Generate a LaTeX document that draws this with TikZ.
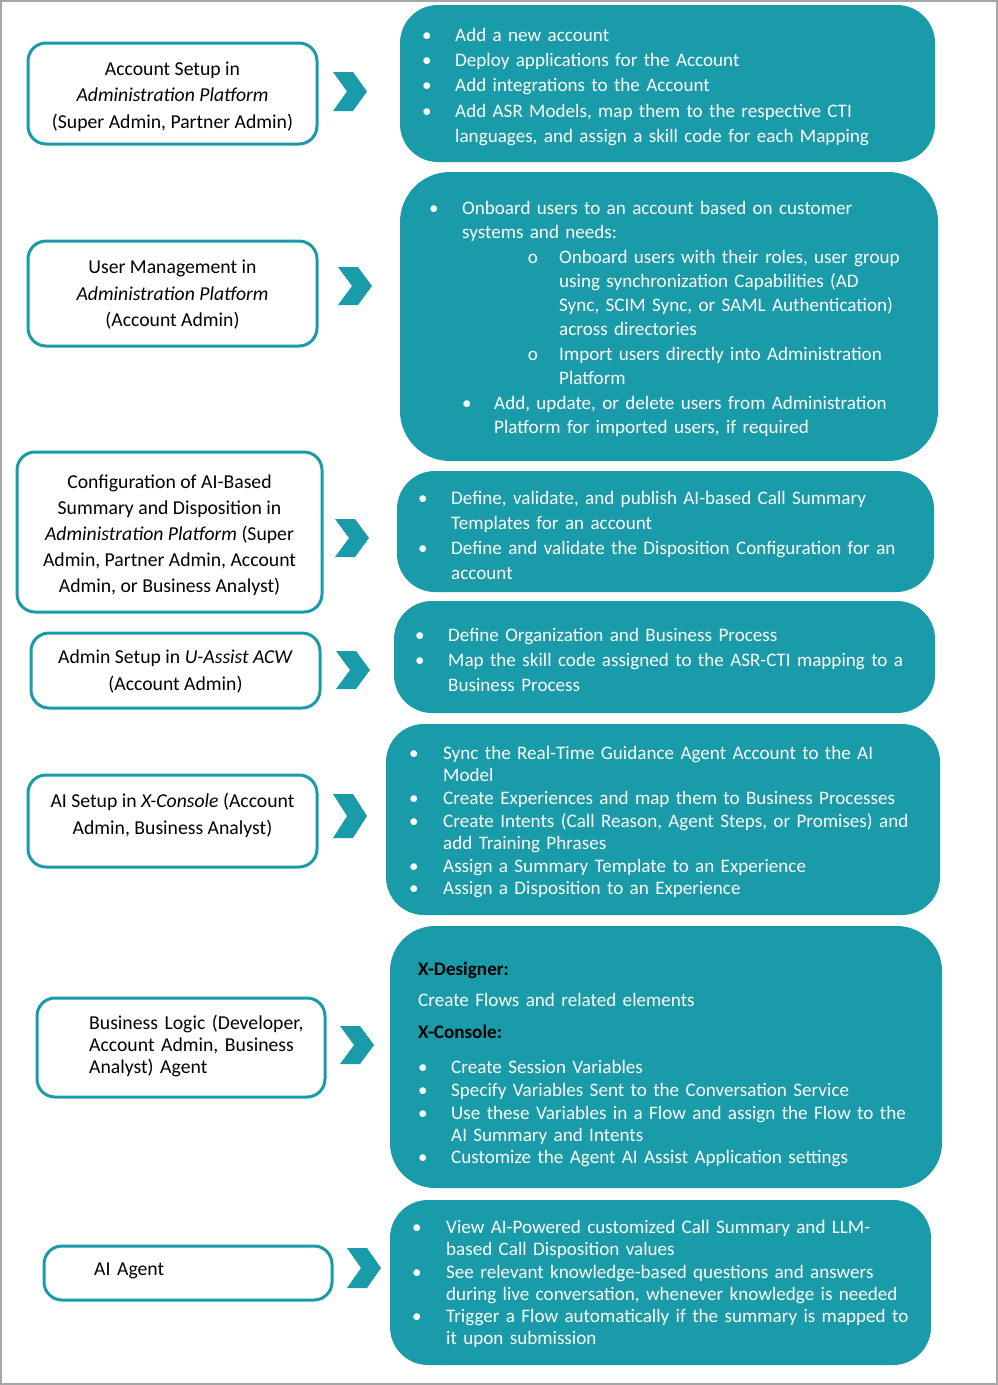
\documentclass[tikz,border=0pt]{standalone}
\usepackage{fontspec}
\setmainfont{Carlito}
\definecolor{teal1}{HTML}{1A9BAA}
\definecolor{frame}{HTML}{A6A6A6}
\newcommand\chev[4]{\fill[teal1] (#2,#3-#4) -- (#2+20,#3-#4) -- (#2+34,#3) -- (#2+20,#3+#4) -- (#2,#3+#4) -- (#2+14,#3) -- cycle;}
\newcommand\bitem[6]{\node[bul,font=#6] (#1b) at (#2,#4) {\textbullet};\node[rt,font=#6] (#1) at (#3,#4) {#5};}
\newcommand\oitem[6]{\node[bul,font=#6] (#1b) at (#2,#4) {o};\node[rt,font=#6] (#1) at (#3,#4) {#5};}
\begin{document}
\begin{tikzpicture}[x=1pt,y=-1pt,
  lbox/.style={draw=teal1,line width=3pt,rounded corners=18pt,fill=white,inner sep=0pt},
  rbox/.style={fill=teal1,rounded corners=38pt,inner sep=0pt},
  ltxt/.style={align=center,inner sep=0pt,text=black},
  bul/.style={anchor=base,inner sep=0pt,text=white},
  rt/.style={anchor=base west,inner sep=0pt,text=white,text width=540pt,align=left},
  hd/.style={anchor=base west,inner sep=0pt,text=black,font=\fontsize{19.1}{24}\selectfont\bfseries}]
\useasboundingbox (0,0) rectangle (998,1385);
\draw[frame,line width=2pt] (1,1) rectangle (997,1384);
\def\fA{\fontsize{19.1}{25.2}\selectfont}
\def\fB{\fontsize{19.1}{24.3}\selectfont}
\def\fC{\fontsize{19.1}{22.4}\selectfont}
\def\fL{\fontsize{19.7}{26.5}\selectfont}
% left boxes
\node[lbox,minimum width=289pt,minimum height=101pt] (L1) at (172.5,93.5) {};
\node[lbox,minimum width=289pt,minimum height=105pt] (L2) at (172.5,293.5) {};
\node[lbox,minimum width=305pt,minimum height=160pt] (L3) at (169.5,532) {};
\node[lbox,minimum width=289pt,minimum height=75pt] (L4) at (175.5,670.5) {};
\node[lbox,minimum width=289pt,minimum height=92pt] (L5) at (172.5,821) {};
\node[lbox,minimum width=288pt,minimum height=99pt] (L6) at (181,1047.5) {};
\node[lbox,minimum width=288pt,minimum height=54pt] (L7) at (188,1273) {};
\node[ltxt,font=\fL] (T1) at (172.5,96.5) {Account Setup in\\\textit{Administration Platform}\\(Super Admin, Partner Admin)};
\node[ltxt,font=\fL] (T2) at (172.5,295) {User Management in\\\textit{Administration Platform}\\(Account Admin)};
\node[ltxt,font=\fontsize{19.7}{26}\selectfont] (T3) at (169.5,535) {Configuration of AI-Based\\Summary and Disposition in\\\textit{Administration Platform} (Super\\Admin, Partner Admin, Account\\Admin, or Business Analyst)};
\node[ltxt,font=\fontsize{19.7}{27}\selectfont] (T4) at (175.5,671.5) {Admin Setup in \textit{U-Assist ACW}\\(Account Admin)};
\node[ltxt,font=\fontsize{19.7}{27}\selectfont] (T5) at (172.5,815.5) {AI Setup in \textit{X-Console} (Account\\Admin, Business Analyst)};
\node[rt,text=black,text width=230pt,font=\fontsize{19.7}{22}\selectfont] (T6) at (89,1029) {Business Logic (Developer,\\Account Admin, Business\\Analyst) Agent};
\node[rt,text=black,text width=100pt,font=\fontsize{19.7}{22}\selectfont] (T7) at (94,1275) {AI Agent};
% chevrons
\chev{C1}{333}{91.5}{19.5}
\chev{C2}{338}{286}{19}
\chev{C3}{335}{538}{19}
\chev{C4}{336}{670}{19}
\chev{C5}{333}{816}{22}
\chev{C6}{340}{1045}{19}
\chev{C7}{347}{1268}{20}
% right boxes
\node[rbox,minimum width=535pt,minimum height=157pt] (R1) at (667.5,83.5) {};
\node[rbox,minimum width=538pt,minimum height=289pt,rounded corners=50pt] (R2) at (669,316.5) {};
\node[rbox,minimum width=537pt,minimum height=121pt] (R3) at (665.5,531.5) {};
\node[rbox,minimum width=541pt,minimum height=112pt] (R4) at (664.5,657) {};
\node[rbox,minimum width=554pt,minimum height=191pt] (R5) at (663,819.5) {};
\node[rbox,minimum width=552pt,minimum height=262pt,rounded corners=45pt] (R6) at (666,1057) {};
\node[rbox,minimum width=541pt,minimum height=165pt] (R7) at (660.5,1282.5) {};
% box 1
\bitem{a1}{427}{455}{41}{Add a new account}{\fA}
\bitem{a2}{427}{455}{66}{Deploy applications for the Account}{\fA}
\bitem{a3}{427}{455}{91}{Add integrations to the Account}{\fA}
\bitem{a4}{427}{455}{117}{Add ASR Models, map them to the respective CTI\\languages, and assign a skill code for each Mapping}{\fA}
% box 2
\bitem{b1}{434}{462}{214}{Onboard users to an account based on customer\\systems and needs:}{\fB}
\oitem{b2}{533}{559}{263}{Onboard users with their roles, user group\\using synchronization Capabilities (AD\\Sync, SCIM Sync, or SAML Authentication)\\across directories}{\fB}
\oitem{b3}{533}{559}{360}{Import users directly into Administration\\Platform}{\fB}
\bitem{b4}{467}{494}{409}{Add, update, or delete users from Administration\\Platform for imported users, if required}{\fB}
% box 3
\bitem{c1}{423}{451}{504}{Define, validate, and publish AI-based Call Summary\\Templates for an account}{\fA}
\bitem{c2}{423}{451}{554}{Define and validate the Disposition Configuration for an\\account}{\fA}
% box 4
\bitem{d1}{420}{448}{641}{Define Organization and Business Process}{\fA}
\bitem{d2}{420}{448}{666}{Map the skill code assigned to the ASR-CTI mapping to a\\Business Process}{\fA}
% box 5
\bitem{e1}{414}{443}{759}{Sync the Real-Time Guidance Agent Account to the AI\\Model}{\fC}
\bitem{e2}{414}{443}{804}{Create Experiences and map them to Business Processes}{\fC}
\bitem{e3}{414}{443}{827}{Create Intents (Call Reason, Agent Steps, or Promises) and\\add Training Phrases}{\fC}
\bitem{e4}{414}{443}{872}{Assign a Summary Template to an Experience}{\fC}
\bitem{e5}{414}{443}{894}{Assign a Disposition to an Experience}{\fC}
% box 6
\node[hd] (h1) at (418,975) {X-Designer:};
\node[rt,font=\fA] (h1t) at (418,1006) {Create Flows and related elements};
\node[hd] (h2) at (418,1038) {X-Console:};
\bitem{f1}{423}{451}{1073}{Create Session Variables}{\fC}
\bitem{f2}{423}{451}{1096}{Specify Variables Sent to the Conversation Service}{\fC}
\bitem{f3}{423}{451}{1119}{Use these Variables in a Flow and assign the Flow to the\\AI Summary and Intents}{\fC}
\bitem{f4}{423}{451}{1163}{Customize the Agent AI Assist Application settings}{\fC}
% box 7
\bitem{g1}{417}{446}{1233}{View AI-Powered customized Call Summary and LLM-\\based Call Disposition values}{\fC}
\bitem{g2}{417}{446}{1278}{See relevant knowledge-based questions and answers\\during live conversation, whenever knowledge is needed}{\fC}
\bitem{g3}{417}{446}{1322}{Trigger a Flow automatically if the summary is mapped to\\it upon submission}{\fC}
\end{tikzpicture}
\end{document}
